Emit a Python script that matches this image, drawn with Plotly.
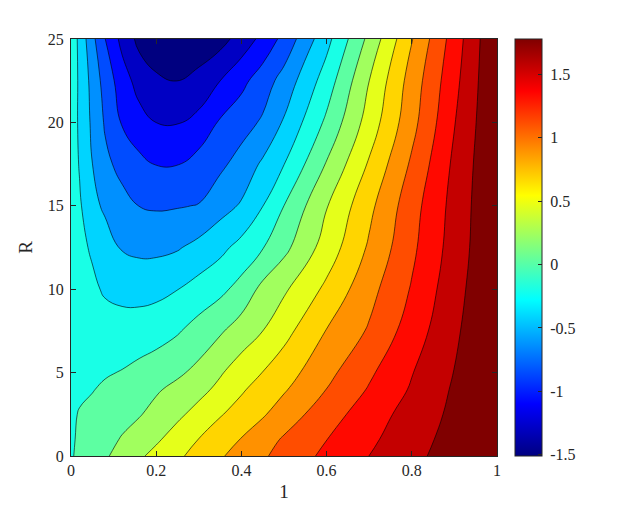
import plotly.graph_objects as go

# grid
x_vals = [0, 0.02, 0.05, 0.08, 0.12, 0.16, 0.2, 0.25, 0.3, 0.35, 0.4, 0.45, 0.5, 0.6, 0.7, 0.8, 0.9, 1.0]
r_vals = [0, 1, 2.5, 4, 5, 7.5, 10, 12.5, 15, 17.5, 20, 22.5, 25]

# one row per R value
z_rows = [
    [-0.09, -0.03, 0.04, 0.11, 0.21, 0.31, 0.40, 0.51, 0.62, 0.73, 0.83, 0.93, 1.03, 1.21, 1.37, 1.52, 1.67, 1.81],
    [-0.09, -0.05, 0.01, 0.07, 0.15, 0.23, 0.31, 0.43, 0.55, 0.66, 0.76, 0.87, 0.98, 1.16, 1.33, 1.49, 1.65, 1.80],
    [-0.10, -0.06, -0.02, 0.02, 0.07, 0.12, 0.20, 0.30, 0.41, 0.53, 0.63, 0.73, 0.85, 1.07, 1.27, 1.45, 1.62, 1.80],
    [-0.11, -0.10, -0.08, -0.04, 0.01, 0.06, 0.11, 0.19, 0.28, 0.39, 0.52, 0.63, 0.73, 0.96, 1.18, 1.39, 1.60, 1.78],
    [-0.13, -0.12, -0.11, -0.09, -0.06, -0.01, 0.04, 0.10, 0.19, 0.32, 0.44, 0.55, 0.66, 0.90, 1.13, 1.36, 1.58, 1.78],
    [-0.16, -0.17, -0.18, -0.19, -0.20, -0.19, -0.16, -0.09, 0.01, 0.11, 0.23, 0.34, 0.48, 0.76, 0.98, 1.26, 1.54, 1.78],
    [-0.18, -0.20, -0.24, -0.30, -0.33, -0.34, -0.33, -0.28, -0.20, -0.12, 0.00, 0.19, 0.31, 0.59, 0.89, 1.18, 1.50, 1.78],
    [-0.16, -0.23, -0.30, -0.38, -0.50, -0.53, -0.53, -0.50, -0.42, -0.33, -0.21, -0.08, 0.08, 0.43, 0.78, 1.12, 1.46, 1.78],
    [-0.14, -0.25, -0.42, -0.52, -0.62, -0.69, -0.71, -0.70, -0.68, -0.56, -0.46, -0.28, -0.07, 0.33, 0.70, 1.08, 1.44, 1.78],
    [-0.16, -0.29, -0.48, -0.64, -0.75, -0.84, -0.90, -0.90, -0.81, -0.73, -0.61, -0.45, -0.28, 0.15, 0.57, 0.99, 1.41, 1.78],
    [-0.16, -0.31, -0.52, -0.71, -0.91, -1.02, -1.10, -1.11, -1.04, -0.87, -0.77, -0.66, -0.46, -0.03, 0.43, 0.89, 1.36, 1.78],
    [-0.15, -0.31, -0.55, -0.77, -1.00, -1.18, -1.27, -1.31, -1.23, -1.10, -0.95, -0.79, -0.61, -0.18, 0.34, 0.84, 1.31, 1.78],
    [-0.13, -0.33, -0.63, -0.89, -1.16, -1.36, -1.44, -1.49, -1.46, -1.38, -1.22, -1.04, -0.83, -0.34, 0.19, 0.74, 1.26, 1.78],
]

x_ticks = [0, 0.2, 0.4, 0.6, 0.8, 1]
r_ticks = [0, 5, 10, 15, 20, 25]
cbar_ticks = [-1.5, -1, -0.5, 0, 0.5, 1, 1.5]
z_low, z_high = -1.51, 1.78
n_levels = 15

jet = [[0, 'rgb(0,0,128)'], [0.125, 'rgb(0,0,255)'], [0.375, 'rgb(0,255,255)'],
       [0.625, 'rgb(255,255,0)'], [0.875, 'rgb(255,0,0)'], [1, 'rgb(128,0,0)']]

step = (z_high - z_low) / (n_levels + 1)
font = dict(family='Liberation Serif', size=16, color='#262626')

fig = go.Figure()

fig.add_trace(go.Contour(
    x=x_vals, y=r_vals, z=z_rows,
    colorscale=jet,
    contours=dict(start=z_low + step, end=z_low + n_levels * step + 1e-6,
                  size=step, coloring='fill', showlabels=False),
    line=dict(color='black', width=0.6, smoothing=1.3),
    showscale=False,
    hoverinfo='skip',
))

# continuous colour bar like the original
fig.add_trace(go.Scatter(
    x=[None], y=[None], mode='markers',
    marker=dict(color=[0], colorscale=jet, cmin=z_low, cmax=z_high, showscale=True,
                colorbar=dict(x=1.042, xanchor='left', xpad=0, y=0.5, yanchor='middle', ypad=0,
                              len=1, lenmode='fraction', thickness=27,
                              outlinecolor='#262626', outlinewidth=1,
                              ticks='inside', ticklen=4, tickcolor='#262626',
                              tickvals=cbar_ticks, ticktext=[' ' + str(t) for t in cbar_ticks],
                              tickfont=font)),
    showlegend=False, hoverinfo='skip',
))

fig.update_layout(
    width=622, height=514,
    margin=dict(l=71, r=125, t=39, b=58),
    paper_bgcolor='white', plot_bgcolor='white',
    font=font,
    showlegend=False,
    xaxis=dict(range=[0, 1], tickvals=x_ticks, ticktext=[str(t) for t in x_ticks],
               showline=True, linecolor='#262626', linewidth=1, mirror='ticks',
               ticks='inside', ticklen=5, tickcolor='#262626', showgrid=False, zeroline=False,
               automargin=False, title=dict(text='1', standoff=6)),
    yaxis=dict(range=[0, 25], tickvals=r_ticks, ticklabelstandoff=3,
               showline=True, linecolor='#262626', linewidth=1, mirror='ticks',
               ticks='inside', ticklen=5, tickcolor='#262626', showgrid=False, zeroline=False,
               automargin=False, title=dict(text='R', standoff=10)),
)

fig.write_html('out.html', config={'displayModeBar': False},
               post_script="document.body.style.margin='0px';")
